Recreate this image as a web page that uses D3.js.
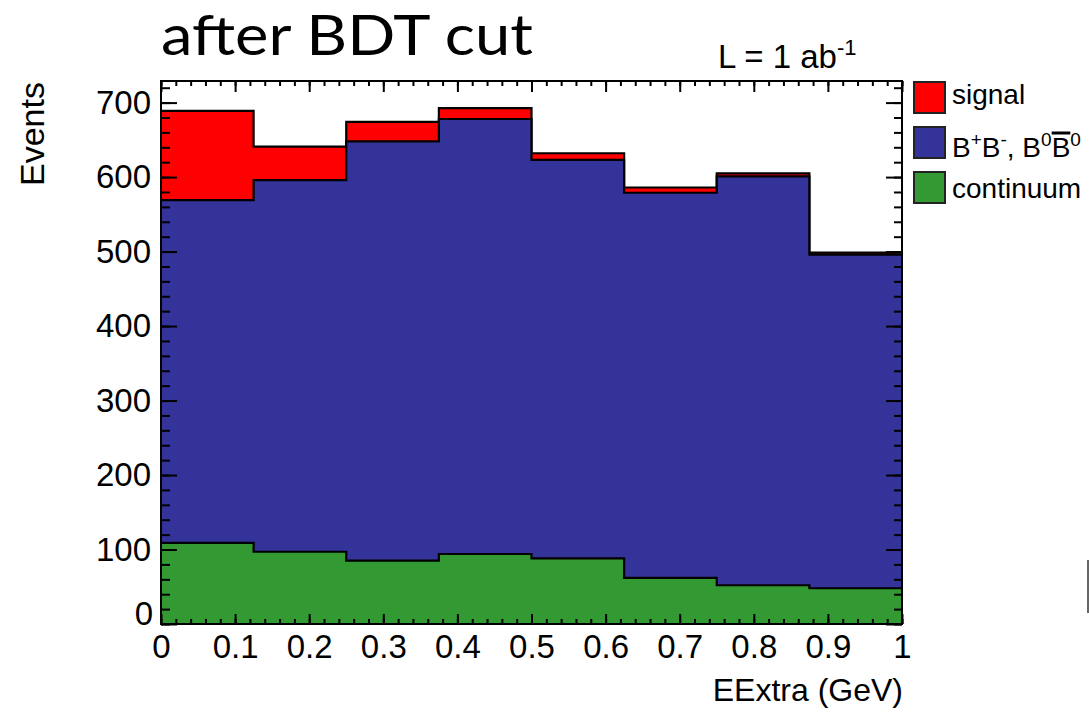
<!DOCTYPE html>
<html>
<head>
<meta charset="utf-8">
<script src="https://d3js.org/d3.v7.min.js"></script>
<style>
  body { margin: 0; background: #fff; }
</style>
</head>
<body>
<div id="chart"></div>
<script>
// bin edges of EExtra (GeV)
var binEdges = [0, 0.125, 0.25, 0.375, 0.5, 0.625, 0.75, 0.875, 1];
// events per bin (stack order: continuum, BB, signal)
var continuum = [109, 97, 85, 94, 88, 62, 52, 48];
var bbbar = [460, 499, 563, 584, 535, 517, 549, 448];
var signal = [120, 45, 26, 14.5, 9, 7, 4, 2.5];

var yMajor = [0, 100, 200, 300, 400, 500, 600, 700];
var xMajor = [0, 0.1, 0.2, 0.3, 0.4, 0.5, 0.6, 0.7, 0.8, 0.9, 1];
var xLabels = ["0", "0.1", "0.2", "0.3", "0.4", "0.5", "0.6", "0.7", "0.8", "0.9", "1"];

var legendNames = ["signal", "bb", "continuum"];
var colors = { signal: "#ff0000", bb: "#333399", continuum: "#339933" };

var width = 1089, height = 714;
var pLeft = 161, pRight = 902, pTop = 81, pBottom = 624;
var font = "'Liberation Sans', Arial, sans-serif";

var svg = d3.select("#chart").append("svg")
    .attr("width", width)
    .attr("height", height)
    .style("font-family", font);

var x = d3.scaleLinear().domain([0, 1]).range([pLeft, pRight]);
var y = d3.scaleLinear().domain([0, 729]).range([pBottom, pTop]);

// cumulative stacks
var stackContinuum = continuum.slice();
var stackBB = continuum.map(function(d, i) { return d + bbbar[i]; });
var stackTotal = stackBB.map(function(d, i) { return d + signal[i]; });

function stepPoints(vals) {
    var pts = [];
    vals.forEach(function(v, i) {
        pts.push([binEdges[i], v]);
        pts.push([binEdges[i + 1], v]);
    });
    return pts;
}

var area = d3.area()
    .x(function(d) { return x(d[0]); })
    .y0(y(0))
    .y1(function(d) { return y(d[1]); });

var line = d3.line()
    .x(function(d) { return x(d[0]); })
    .y(function(d) { return y(d[1]); });

var layers = [
    { vals: stackTotal, color: colors.signal },
    { vals: stackBB, color: colors.bb },
    { vals: stackContinuum, color: colors.continuum }
];

layers.forEach(function(l) {
    var pts = stepPoints(l.vals);
    svg.append("path")
        .attr("d", area(pts))
        .attr("fill", l.color);
    svg.append("path")
        .attr("d", line(pts))
        .attr("fill", "none")
        .attr("stroke", "#000")
        .attr("stroke-width", 2.2);
});

// ticks
var yMinor = d3.range(0, 721, 20);
var xMinor = d3.range(0, 1.0001, 0.02);

var gLeft = svg.append("g").attr("transform", "translate(" + pLeft + ",0)");
gLeft.call(d3.axisLeft(y).tickValues(yMinor).tickSizeInner(-9).tickSizeOuter(0).tickFormat(""));
var gLeftMaj = gLeft.append("g").call(d3.axisLeft(y).tickValues(yMajor).tickSizeInner(-16).tickSizeOuter(0).tickPadding(10));

var gRight = svg.append("g").attr("transform", "translate(" + pRight + ",0)");
gRight.call(d3.axisRight(y).tickValues(yMinor).tickSizeInner(-8).tickSizeOuter(0).tickFormat(""));
gRight.append("g").call(d3.axisRight(y).tickValues(yMajor).tickSizeInner(-16).tickSizeOuter(0).tickFormat(""));

var gBottom = svg.append("g").attr("transform", "translate(0," + pBottom + ")");
gBottom.call(d3.axisBottom(x).tickValues(xMinor).tickSizeInner(-5).tickSizeOuter(0).tickFormat(""));
gBottom.append("g").call(d3.axisBottom(x).tickValues(xMajor).tickSizeInner(-10).tickSizeOuter(0)
    .tickPadding(11).tickFormat(function(d, i) { return xLabels[i]; }));

var gTop = svg.append("g").attr("transform", "translate(0," + pTop + ")");
gTop.call(d3.axisTop(x).tickValues(xMinor).tickSizeInner(-5).tickSizeOuter(0).tickFormat(""));
gTop.append("g").call(d3.axisTop(x).tickValues(xMajor).tickSizeInner(-11).tickSizeOuter(0).tickFormat(""));

svg.selectAll(".domain").remove();
svg.selectAll(".tick line").attr("stroke", "#000").attr("stroke-width", 2);
svg.selectAll(".tick text")
    .attr("font-family", font)
    .attr("font-size", "33px")
    .attr("fill", "#000");

// the y "0" label is lifted a bit, as in ROOT
gLeftMaj.selectAll(".tick text").filter(function(d) { return d === 0; })
    .attr("dy", "0em")
    .attr("x", -8);

// frame
svg.append("rect")
    .attr("x", pLeft).attr("y", pTop)
    .attr("width", pRight - pLeft).attr("height", pBottom - pTop)
    .attr("fill", "none").attr("stroke", "#000").attr("stroke-width", 2);

// title
svg.append("text")
    .attr("x", 161).attr("y", 55)
    .style("font-family", "Lato, 'Noto Sans', sans-serif")
    .attr("font-size", "57px")
    .attr("textLength", 372)
    .attr("lengthAdjust", "spacingAndGlyphs")
    .text("after BDT cut");

var lum = svg.append("text")
    .attr("x", 718).attr("y", 68)
    .attr("font-size", "33px");
lum.append("tspan").text("L = 1 ab");
lum.append("tspan").attr("font-size", "22px").attr("dy", "-13").text("-1");

// axis titles
svg.append("text")
    .attr("transform", "translate(44,186) rotate(-90)")
    .attr("font-size", "34px")
    .text("Events");

svg.append("text")
    .attr("x", 903).attr("y", 701)
    .attr("text-anchor", "end")
    .attr("font-size", "32px")
    .text("EExtra (GeV)");

// legend
var legend = svg.append("g");
var legY = [82, 127, 172];
legendNames.forEach(function(k, i) {
    legend.append("rect")
        .attr("x", 914).attr("y", legY[i])
        .attr("width", 31).attr("height", 31)
        .attr("fill", colors[k])
        .attr("stroke", "#222").attr("stroke-width", 2);
});
legend.append("text").attr("x", 952).attr("y", 104).attr("font-size", "28px").text("signal");
legend.append("text").attr("x", 952).attr("y", 198).attr("font-size", "28px").text("continuum");

var bb = legend.append("text").attr("x", 952).attr("y", 157).attr("font-size", "28px");
bb.append("tspan").text("B");
bb.append("tspan").attr("font-size", "19px").attr("dy", "-11").text("+");
bb.append("tspan").attr("dy", "11").text("B");
bb.append("tspan").attr("font-size", "19px").attr("dy", "-11").text("-");
bb.append("tspan").attr("dy", "11").text(", B");
bb.append("tspan").attr("font-size", "19px").attr("dy", "-11").text("0");
bb.append("tspan").attr("dy", "11").text("B");
bb.append("tspan").attr("font-size", "19px").attr("dy", "-11").text("0");

// overline on the anti-B
var textNode = bb.node();
var n = textNode.getNumberOfChars();
var start = textNode.getStartPositionOfChar(n - 2);
var end = textNode.getEndPositionOfChar(n - 2);
legend.append("line")
    .attr("x1", start.x).attr("x2", end.x)
    .attr("y1", 133).attr("y2", 133)
    .attr("stroke", "#000").attr("stroke-width", 3);

// small grey bar at the right edge of the picture
svg.append("rect")
    .attr("x", 1087).attr("y", 560)
    .attr("width", 2).attr("height", 53)
    .attr("fill", "#666");
</script>
</body>
</html>
